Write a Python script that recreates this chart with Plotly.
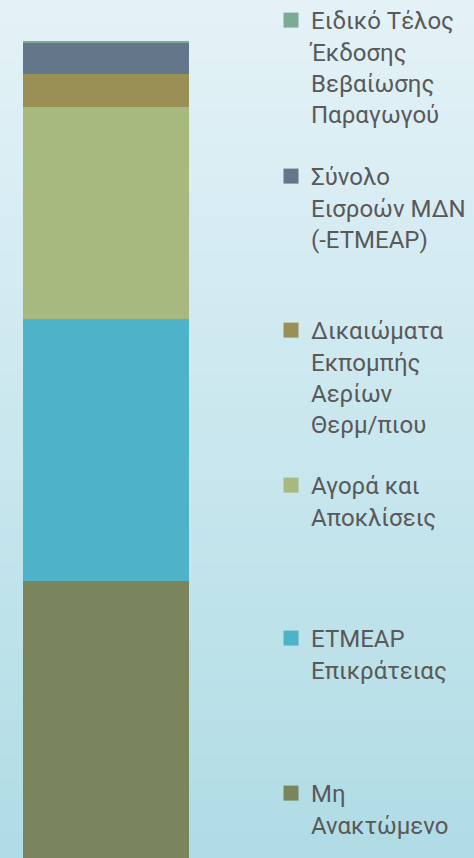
import plotly.graph_objects as go

# Data (bottom to top of the stack)
categories = ["Μη<br>Ανακτώμενο", "ETMEAP<br>Επικράτειας", "Αγορά και<br>Αποκλίσεις",
              "Δικαιώματα<br>Εκπομπής<br>Αερίων<br>Θερμ/πιου",
              "Σύνολο<br>Εισροών ΜΔΝ<br>(-ETMEAP)",
              "Ειδικό Τέλος<br>Έκδοσης<br>Βεβαίωσης<br>Παραγωγού"]
values = [277, 262, 212, 33, 31, 1.5]
colors = ["#7A855E", "#4FB3C8", "#A7B97F", "#9A9055", "#64778A", "#7BAA95"]

W, H = 474, 858
fig = go.Figure()

legend_names = ["legend", "legend2", "legend3", "legend4", "legend5", "legend6"]
# legend first-line centre (px from top), bottom item first
legend_y = [793, 638, 485, 330, 176, 20]

for i, (cat, val, col) in enumerate(zip(categories, values, colors)):
    fig.add_trace(go.Bar(x=[0], y=[val], name=cat, marker=dict(color=col, line=dict(width=0)),
                         width=1, showlegend=False))
    fig.add_trace(go.Scatter(x=[None], y=[None], mode="markers", name=cat,
                             marker=dict(symbol="square", size=15, color=col, line=dict(width=0)),
                             legend=legend_names[i], showlegend=True))

# gradient background via strips
top = (228, 242, 247)
bot = (176, 220, 229)
n = 143
shapes = []
for k in range(n):
    t = k / (n - 1)
    c = tuple(round(top[j] + (bot[j] - top[j]) * t) for j in range(3))
    y1 = 1 - k / n
    y0 = 1 - (k + 1) / n - 0.001
    shapes.append(dict(type="rect", xref="paper", yref="paper", x0=0, x1=1, y0=y0, y1=y1,
                       fillcolor="rgb(%d,%d,%d)" % c, line=dict(width=0), layer="below"))

px_per_unit = 166
x0 = -106 / px_per_unit
layout = dict(
    width=W, height=H,
    margin=dict(l=0, r=0, t=0, b=0, autoexpand=False),
    paper_bgcolor="#E4F2F7", plot_bgcolor="rgba(0,0,0,0)",
    barmode="stack",
    xaxis=dict(visible=False, range=[x0, x0 + W / px_per_unit], fixedrange=True),
    yaxis=dict(visible=False, range=[0, H], fixedrange=True),
    shapes=shapes,
    showlegend=True,
    font=dict(family="Roboto", size=24, color="#595959"),
)
for i, ln in enumerate(legend_names):
    yc = legend_y[i]
    layout[ln] = dict(x=271 / W, xanchor="left", y=1 - (yc - 22) / H, yanchor="top",
                      bgcolor="rgba(0,0,0,0)", valign="top", itemsizing="trace",
                      font=dict(family="Roboto", size=24, color="#595959"))
fig.update_layout(**layout)
fig.write_html("out.html")
